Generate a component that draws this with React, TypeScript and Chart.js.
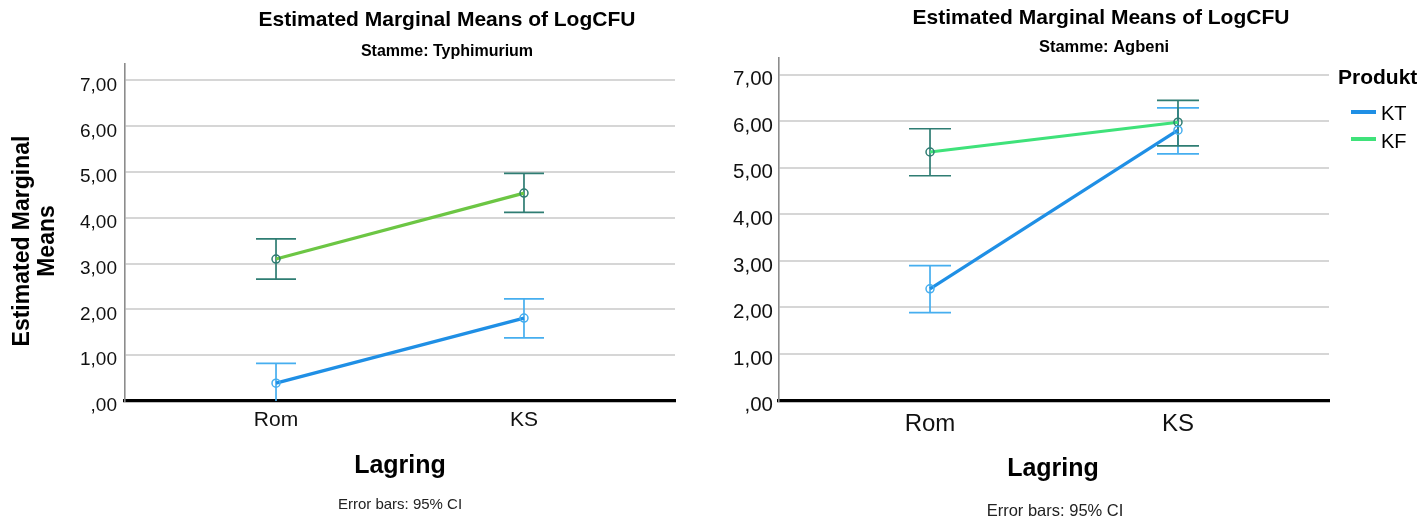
import React, { useEffect, useRef } from 'react';
import { Chart, registerables } from 'chart.js';

Chart.register(...registerables);

// ---------- data ----------
const categories = ['Rom', 'KS'];
const yTickValues = [0, 1, 2, 3, 4, 5, 6, 7];
const seriesNames = ['KT', 'KF'];

// Stamme: Typhimurium
const typhKT = [0.39, 1.81];
const typhKTLow = [-0.04, 1.38];
const typhKTHigh = [0.82, 2.23];
const typhKF = [3.1, 4.54];
const typhKFLow = [2.66, 4.12];
const typhKFHigh = [3.54, 4.97];

// Stamme: Agbeni
const agbKT = [2.4, 5.81];
const agbKTLow = [1.89, 5.3];
const agbKTHigh = [2.9, 6.29];
const agbKF = [5.34, 5.98];
const agbKFLow = [4.83, 5.47];
const agbKFHigh = [5.84, 6.45];

// ---------- styles ----------
const FAMILY = '"Liberation Sans", Arial, sans-serif';
const BLUE = '#1f8fe5';
const BLUE_ERR = '#46aeef';
const TEAL = '#2f7d73';
const GREEN_LEFT = '#6cc644';
const GREEN_RIGHT = '#3fe27a';

const fmt = (v: number) => (v === 0 ? ',00' : v.toFixed(2).replace('.', ','));

const errorBarPlugin = {
  id: 'errorBars',
  beforeDatasetsDraw(chart: any) {
    const { ctx, chartArea, scales } = chart;
    const xs = scales.x;
    const ys = scales.y;
    const cap = chart.options.plugins.errorBars?.capHalf ?? 20;
    ctx.save();
    ctx.beginPath();
    ctx.rect(chartArea.left, chartArea.top, chartArea.right - chartArea.left, chartArea.bottom - chartArea.top);
    ctx.clip();
    chart.data.datasets.forEach((ds: any) => {
      if (!ds.ciLow) return;
      ctx.strokeStyle = ds.ciColor;
      ctx.lineWidth = 1.7;
      ds.ciLow.forEach((lo: number, i: number) => {
        const hi = ds.ciHigh[i];
        const px = xs.getPixelForValue(i);
        const pl = ys.getPixelForValue(lo);
        const ph = ys.getPixelForValue(hi);
        ctx.beginPath();
        ctx.moveTo(px, pl);
        ctx.lineTo(px, ph);
        ctx.moveTo(px - cap, pl);
        ctx.lineTo(px + cap, pl);
        ctx.moveTo(px - cap, ph);
        ctx.lineTo(px + cap, ph);
        ctx.stroke();
      });
    });
    ctx.restore();
  },
};

const decorPlugin = {
  id: 'decor',
  afterDraw(chart: any) {
    const opts = chart.options.plugins.decor;
    if (!opts) return;
    const { ctx } = chart;
    ctx.save();
    (opts.lines || []).forEach((l: any) => {
      ctx.strokeStyle = l.color;
      ctx.lineWidth = l.width;
      ctx.beginPath();
      ctx.moveTo(l.x1, l.y1);
      ctx.lineTo(l.x2, l.y2);
      ctx.stroke();
    });
    (opts.texts || []).forEach((t: any) => {
      ctx.save();
      ctx.font = t.font;
      ctx.fillStyle = t.color || '#000';
      ctx.textAlign = t.align || 'center';
      ctx.textBaseline = 'middle';
      ctx.translate(t.x, t.y);
      if (t.rot) ctx.rotate(t.rot);
      ctx.fillText(t.text, 0, 0);
      ctx.restore();
    });
    ctx.restore();
  },
};

type Panel = {
  left: number;
  width: number;
  kt: number[];
  ktLow: number[];
  ktHigh: number[];
  kf: number[];
  kfLow: number[];
  kfHigh: number[];
  green: string;
  padTop: number;
  padRight: number;
  yWidth: number;
  xHeight: number;
  yTickSize: number;
  yTickPad: number;
  xTickSize: number;
  xTickPad: number;
  capHalf: number;
  decor: any;
};

function makeConfig(p: Panel): any {
  return {
    type: 'line',
    data: {
      datasets: [
        {
          label: seriesNames[0],
          data: categories.map((_, i) => ({ x: i, y: p.kt[i] })),
          borderColor: BLUE,
          borderWidth: 3.2,
          pointRadius: 4,
          pointBorderColor: BLUE_ERR,
          pointBackgroundColor: 'rgba(0,0,0,0)',
          pointBorderWidth: 1.5,
          tension: 0,
          ciLow: p.ktLow,
          ciHigh: p.ktHigh,
          ciColor: BLUE_ERR,
        },
        {
          label: seriesNames[1],
          data: categories.map((_, i) => ({ x: i, y: p.kf[i] })),
          borderColor: p.green,
          borderWidth: 3.2,
          pointRadius: 4,
          pointBorderColor: TEAL,
          pointBackgroundColor: 'rgba(0,0,0,0)',
          pointBorderWidth: 1.5,
          tension: 0,
          ciLow: p.kfLow,
          ciHigh: p.kfHigh,
          ciColor: TEAL,
        },
      ],
    },
    options: {
      animation: false,
      responsive: false,
      maintainAspectRatio: false,
      devicePixelRatio: 1,
      layout: { padding: { left: 0, top: p.padTop, right: p.padRight, bottom: 0 } },
      scales: {
        x: {
          type: 'linear',
          min: -0.609,
          max: 1.609,
          afterBuildTicks: (s: any) => {
            s.ticks = categories.map((_, i) => ({ value: i }));
          },
          afterFit: (s: any) => {
            s.height = p.xHeight;
          },
          ticks: {
            callback: (v: any) => categories[v] ?? '',
            font: { family: FAMILY, size: p.xTickSize },
            color: '#111',
            padding: p.xTickPad,
            maxRotation: 0,
          },
          grid: { display: false, drawTicks: false },
          border: { display: true, color: '#000', width: 3.2 },
        },
        y: {
          type: 'linear',
          min: 0,
          max: 7.36,
          afterBuildTicks: (s: any) => {
            s.ticks = yTickValues.map((v) => ({ value: v }));
          },
          afterFit: (s: any) => {
            s.width = p.yWidth;
          },
          ticks: {
            callback: (v: any) => fmt(Number(v)),
            font: { family: FAMILY, size: p.yTickSize },
            color: '#111',
            padding: p.yTickPad,
            labelOffset: 5,
          },
          grid: { color: '#d6d6d6', lineWidth: 2, drawTicks: false },
          border: { display: true, color: '#8c8c8c', width: 1.6 },
        },
      },
      plugins: {
        legend: { display: false },
        title: { display: false },
        tooltip: { enabled: false },
        errorBars: { capHalf: p.capHalf },
        decor: p.decor,
      },
    },
    plugins: [errorBarPlugin, decorPlugin],
  };
}

const titleText = 'Estimated Marginal Means of LogCFU';

const leftPanel: Panel = {
  left: 0,
  width: 700,
  kt: typhKT,
  ktLow: typhKTLow,
  ktHigh: typhKTHigh,
  kf: typhKF,
  kfLow: typhKFLow,
  kfHigh: typhKFHigh,
  green: GREEN_LEFT,
  padTop: 64,
  padRight: 25,
  yWidth: 125,
  xHeight: 120,
  yTickSize: 19,
  yTickPad: 8,
  xTickSize: 21,
  xTickPad: 7,
  capHalf: 20,
  decor: {
    texts: [
      { text: titleText, x: 447, y: 20, font: `bold 21px ${FAMILY}` },
      { text: 'Stamme: Typhimurium', x: 447, y: 52, font: `bold 16px ${FAMILY}` },
      { text: 'Estimated Marginal', x: 23, y: 241, font: `bold 23px ${FAMILY}`, rot: -Math.PI / 2 },
      { text: 'Means', x: 48, y: 241, font: `bold 23px ${FAMILY}`, rot: -Math.PI / 2 },
      { text: 'Lagring', x: 400, y: 466, font: `bold 25px ${FAMILY}` },
      { text: 'Error bars: 95% CI', x: 400, y: 505, font: `15px ${FAMILY}`, color: '#222' },
    ],
  },
};

const rightPanel: Panel = {
  left: 700,
  width: 726,
  kt: agbKT,
  ktLow: agbKTLow,
  ktHigh: agbKTHigh,
  kf: agbKF,
  kfLow: agbKFLow,
  kfHigh: agbKFHigh,
  green: GREEN_RIGHT,
  padTop: 58,
  padRight: 97,
  yWidth: 79,
  xHeight: 120.5,
  yTickSize: 20.5,
  yTickPad: 6,
  xTickSize: 24,
  xTickPad: 9,
  capHalf: 21,
  decor: {
    texts: [
      { text: titleText, x: 401, y: 18, font: `bold 21px ${FAMILY}` },
      { text: 'Stamme: Agbeni', x: 404, y: 47, font: `bold 16.5px ${FAMILY}` },
      { text: 'Lagring', x: 353, y: 469, font: `bold 25px ${FAMILY}` },
      { text: 'Error bars: 95% CI', x: 355, y: 511, font: `16.5px ${FAMILY}`, color: '#222' },
      { text: 'Produkt', x: 638, y: 78, font: `bold 21px ${FAMILY}`, align: 'left' },
      { text: seriesNames[0], x: 681, y: 114.5, font: `20px ${FAMILY}`, align: 'left' },
      { text: seriesNames[1], x: 681, y: 142, font: `20px ${FAMILY}`, align: 'left' },
    ],
    lines: [
      { x1: 651, y1: 112, x2: 676, y2: 112, color: BLUE, width: 4 },
      { x1: 651, y1: 139, x2: 676, y2: 139, color: GREEN_RIGHT, width: 4 },
    ],
  },
};

function ChartPanel({ panel }: { panel: Panel }) {
  const ref = useRef<HTMLCanvasElement | null>(null);
  useEffect(() => {
    if (!ref.current) return;
    const chart = new Chart(ref.current, makeConfig(panel));
    return () => chart.destroy();
  }, [panel]);
  return (
    <canvas
      ref={ref}
      width={panel.width}
      height={521}
      style={{ position: 'absolute', left: panel.left, top: 0, width: panel.width, height: 521 }}
    />
  );
}

export default function App() {
  return (
    <div style={{ position: 'absolute', left: 0, top: 0, width: 1426, height: 521, background: '#fff', overflow: 'hidden' }}>
      <ChartPanel panel={leftPanel} />
      <ChartPanel panel={rightPanel} />
    </div>
  );
}
